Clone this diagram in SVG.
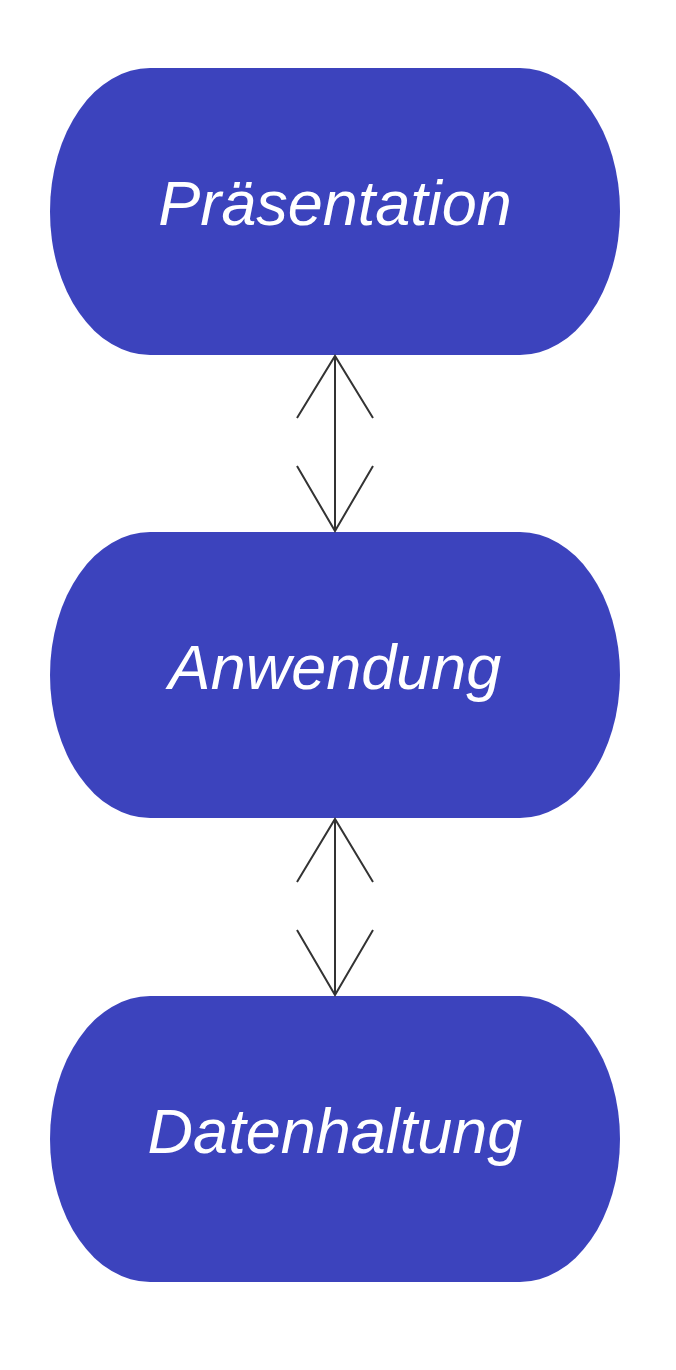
<svg xmlns="http://www.w3.org/2000/svg" width="676" height="1370" viewBox="0 0 676 1370">
<style>
.node{fill:#3c43bd;}
.lbl{font-family:"Liberation Sans",Arial,sans-serif;font-style:italic;font-size:63px;fill:#ffffff;text-anchor:middle;}
.conn{stroke:#333333;stroke-width:2;fill:none;}
</style>
<rect width="676" height="1370" fill="#ffffff"/>
<g id="node-praesentation">
<rect class="node" x="50" y="68" width="570" height="287" rx="100" ry="143"/>
<text class="lbl" x="335" y="225">Präsentation</text>
</g>
<g id="node-anwendung">
<rect class="node" x="50" y="532" width="570" height="286" rx="100" ry="143"/>
<text class="lbl" x="335" y="689">Anwendung</text>
</g>
<g id="node-datenhaltung">
<rect class="node" x="50" y="996" width="570" height="286" rx="100" ry="143"/>
<text class="lbl" x="335" y="1153">Datenhaltung</text>
</g>
<g id="connectors">
<path class="conn" d="M335,356 L335,531"/>
<path class="conn" d="M297,418 L335,356 L373,418"/>
<path class="conn" d="M297,466 L335,531 L373,466"/>
<path class="conn" d="M335,819 L335,995"/>
<path class="conn" d="M297,882 L335,819 L373,882"/>
<path class="conn" d="M297,930 L335,995 L373,930"/>
</g>
</svg>
